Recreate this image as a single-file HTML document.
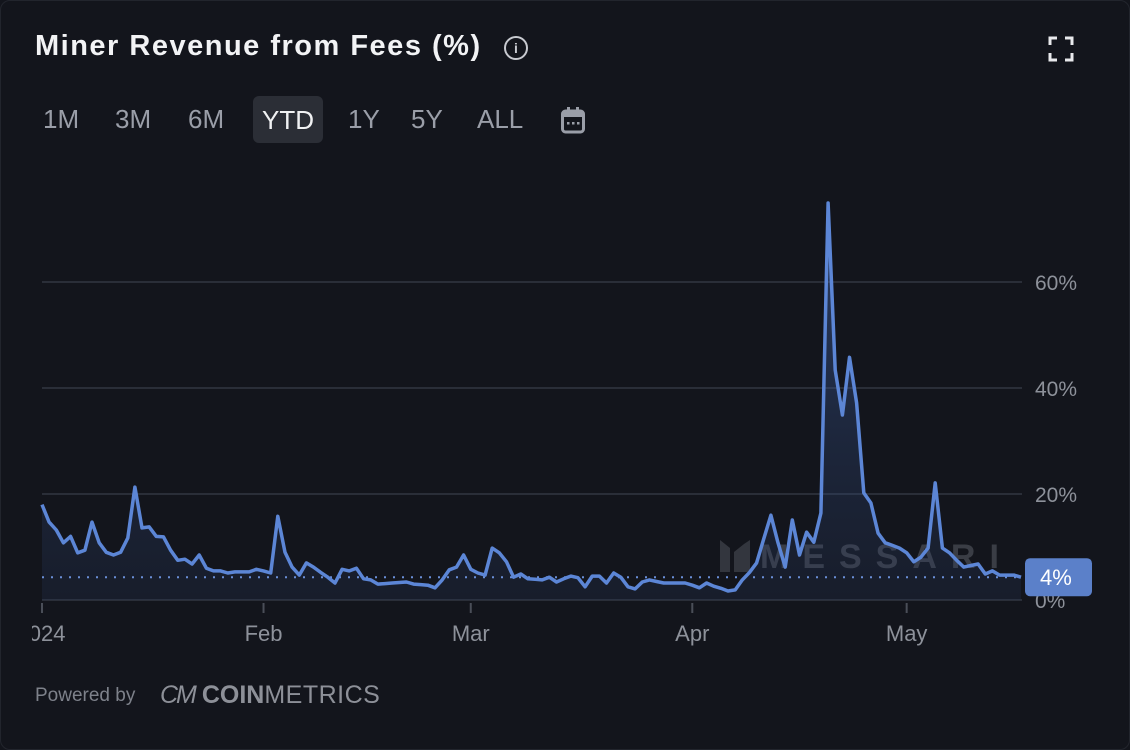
<!DOCTYPE html>
<html><head><meta charset="utf-8">
<style>
html,body{margin:0;padding:0;background:#13151c;}
body{width:1130px;height:750px;overflow:hidden;font-family:"Liberation Sans",sans-serif;position:relative;}
.card{position:absolute;left:0;top:0;width:1128px;height:748px;border:1px solid #22252d;border-radius:10px;background:#13151c;}
.title{position:absolute;left:35px;top:30px;color:#f2f3f5;font-size:29px;font-weight:bold;letter-spacing:1.5px;}
.info{position:absolute;left:504px;top:36px;width:24px;height:24px;border:2px solid #c8cad0;border-radius:50%;box-sizing:border-box;color:#c8cad0;font-size:14px;font-weight:bold;text-align:center;line-height:20px;}
.btn{position:absolute;top:104px;color:#9a9ea8;font-size:26px;}
.ytd{position:absolute;left:253px;top:96px;width:70px;height:47px;background:#2b2e36;border-radius:6px;color:#f0f1f3;font-size:26px;text-align:center;line-height:48px;}
.foot{position:absolute;left:35px;top:685px;color:#7d818a;font-size:19px;}
.logo{position:absolute;left:160px;top:681px;color:#8d9098;font-size:25px;}
</style></head><body>
<div class="card"></div>
<div class="title">Miner Revenue from Fees (%)</div>
<div class="info">i</div>
<svg style="position:absolute;left:1048px;top:36px" width="26" height="26">
<path d="M2 9V2H9M17 2H24V9M24 17V24H17M9 24H2V17" stroke="#e8e9ec" stroke-width="3" fill="none"/></svg>
<div class="btn" style="left:43px">1M</div>
<div class="btn" style="left:115px">3M</div>
<div class="btn" style="left:188px">6M</div>
<div class="ytd">YTD</div>
<div class="btn" style="left:348px">1Y</div>
<div class="btn" style="left:411px">5Y</div>
<div class="btn" style="left:477px">ALL</div>
<svg style="position:absolute;left:561px;top:106px" width="24" height="28">
<rect x="1.5" y="5" width="21" height="21" rx="3" fill="none" stroke="#9a9ea8" stroke-width="3"/>
<rect x="1.5" y="5" width="21" height="6" fill="#9a9ea8"/>
<rect x="6" y="1" width="3" height="6" fill="#9a9ea8"/><rect x="15" y="1" width="3" height="6" fill="#9a9ea8"/>
<rect x="6" y="16" width="2.5" height="2.5" fill="#9a9ea8"/><rect x="11" y="16" width="2.5" height="2.5" fill="#9a9ea8"/><rect x="16" y="16" width="2.5" height="2.5" fill="#9a9ea8"/>
</svg>
<svg id="chart" style="position:absolute;left:0;top:0" width="1130" height="750"></svg>
<div class="foot">Powered by</div>
<div class="logo"><span style="font-style:italic;letter-spacing:-2px">CM</span> <b>COIN</b><span style="letter-spacing:0.5px">METRICS</span></div>
<script>
const feePct = [18,14.7,13.2,10.8,12,8.9,9.4,14.7,10.8,9,8.5,9,11.7,21.3,13.6,13.8,12,11.9,9.4,7.5,7.7,6.8,8.5,6,5.5,5.5,5.1,5.3,5.3,5.3,5.8,5.5,5.1,15.8,9,6.2,4.7,7,6.2,5.2,4.3,3.2,5.8,5.5,6,4,3.8,3,3.1,3.2,3.3,3.4,3,2.9,2.8,2.3,3.8,5.7,6.2,8.5,5.8,5.1,4.7,9.8,8.9,7.2,4.3,4.9,4,3.9,3.8,4.3,3.4,4,4.5,4.2,2.5,4.5,4.5,3.2,5.1,4.3,2.5,2.1,3.4,3.8,3.5,3.2,3.2,3.2,3.2,2.8,2.3,3.2,2.6,2.2,1.7,1.9,3.8,5.2,7,11.5,16,10.8,6.2,15.1,8.5,12.8,10.9,16.4,74.9,43.4,34.9,45.8,37.2,20.2,18.3,12.6,10.8,10.3,9.8,8.9,7.2,8.1,9.8,22.1,9.8,8.9,7.5,6.2,6.5,6.8,4.9,5.5,4.7,4.7,4.7,4.3];
const days = feePct.map((_,i)=>i);
const yTicks = [0,20,40,60];
const yTickLabels = ["0%","20%","40%","60%"];
const monthDays = [0,31,60,91,121];
const monthLabels = ["2024","Feb","Mar","Apr","May"];
const currentValue = 4.3;
const currentLabel = "4%";

const X0=42, X1=1021, Y0=600, PXPER=5.3;
function xS(d){return X0 + d*(X1-X0)/137;}
function yS(v){return Y0 - v*PXPER;}
const svg=document.getElementById('chart');
const NS='http://www.w3.org/2000/svg';
function mk(tag,attrs){const e=document.createElementNS(NS,tag);for(const k in attrs)e.setAttribute(k,attrs[k]);svg.appendChild(e);return e;}

const defs=mk('defs',{});
defs.innerHTML='<linearGradient id="fg" x1="0" y1="0" x2="0" y2="1"><stop offset="0" stop-color="#4d74c4" stop-opacity="0.45"/><stop offset="0.6" stop-color="#3a5a9a" stop-opacity="0.25"/><stop offset="1" stop-color="#2a3d66" stop-opacity="0.2"/></linearGradient><clipPath id="lc"><rect x="32" y="600" width="1100" height="60"/></clipPath>';

yTicks.forEach((t,i)=>{
  const g=mk('line',{x1:X0,x2:1022,y1:yS(t),y2:yS(t),stroke:'#2a2e38','stroke-width':2});
  
  
  const tx=mk('text',{x:1035,y:yS(t)+8,fill:'#8d919a','font-size':21,'font-family':'Liberation Sans, sans-serif'});
  tx.textContent=yTickLabels[i];
  
  
});
monthDays.forEach((d,i)=>{
  const tk=mk('line',{x1:xS(d),x2:xS(d),y1:603,y2:613,stroke:'#4a4e58','stroke-width':2});
  
  
  const tx=mk('text',{x:i===0?xS(d)-1:xS(d),y:641,fill:'#8d919a','font-size':22,'text-anchor':'middle','font-family':'Liberation Sans, sans-serif','clip-path':'url(#lc)'});
  tx.textContent=monthLabels[i];
  
  
});
const wm=mk('text',{x:760,y:568,fill:'#3a3d45','font-size':34,'letter-spacing':14,'font-family':'Liberation Sans, sans-serif','font-weight':'bold'});
wm.textContent='MESSARI';


const wmk=mk('path',{d:'M720 540 L730 548 L730 572 L720 572 Z M734 552 L744 544 L750 540 L750 572 L734 572 Z',fill:'#33363e'});



let pts=days.map((d,i)=>xS(d).toFixed(1)+','+yS(feePct[i]).toFixed(1));
const area=mk('path',{d:'M'+xS(days[0])+','+Y0+' L'+pts.join(' L')+' L'+xS(days[days.length-1])+','+Y0+' Z',fill:'url(#fg)'});


const ref=mk('line',{x1:X0,x2:1022,y1:yS(currentValue),y2:yS(currentValue),stroke:'#6a8fd8','stroke-width':2,'stroke-dasharray':'2 7'});


const line=mk('polyline',{points:pts.join(' '),fill:'none',stroke:'#5c86d6','stroke-width':3.5,'stroke-linejoin':'round'});


const badge=mk('rect',{x:1025,y:yS(currentValue)-19,width:67,height:38,rx:5,fill:'#5b80c9'});


const bt=mk('text',{x:1040,y:yS(currentValue)+8,fill:'#ffffff','font-size':22,'font-family':'Liberation Sans, sans-serif'});
bt.textContent=currentLabel;


</script>
</body></html>
